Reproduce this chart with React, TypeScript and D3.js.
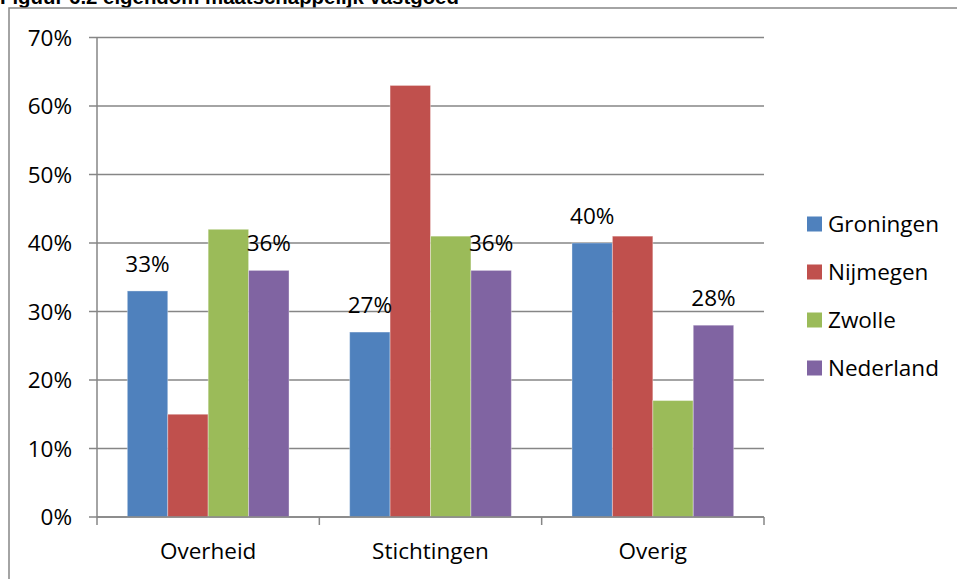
import React from "react";
import * as d3 from "d3";

// Ownership of social real estate per owner type and city
const categories = ["Overheid", "Stichtingen", "Overig"];
const seriesNames = ["Groningen", "Nijmegen", "Zwolle", "Nederland"];
const groningen = [0.33, 0.27, 0.40];
const nijmegen = [0.15, 0.63, 0.41];
const zwolle = [0.42, 0.41, 0.17];
const nederland = [0.36, 0.36, 0.28];
const seriesValues = [groningen, nijmegen, zwolle, nederland];
const labeledSeries = ["Groningen", "Nederland"];
const yTicks = [0, 0.1, 0.2, 0.3, 0.4, 0.5, 0.6, 0.7];
const title = "Figuur 6.2 eigendom maatschappelijk vastgoed";

const colors = ["#4F81BD", "#C0504D", "#9BBB59", "#8064A2"];
const W = 957;
const H = 579;
const FONT = "'Open Sans', 'Noto Sans', sans-serif";
const FS = 22.5;
const gridColor = "#868686";

export default function App() {
  const x0 = 97;
  const x1 = 764;
  const yTop = 37.5;
  const yBottom = 517;

  const x = d3.scaleBand<string>().domain(categories).range([x0, x1]).paddingInner(0).paddingOuter(0);
  const xs = d3.scaleBand<string>().domain(seriesNames).range([0, x.bandwidth()]).paddingInner(0).paddingOuter(0.75);
  const y = d3.scaleLinear().domain([0, 0.7]).range([yBottom, yTop]);
  const pct = d3.format(".0%");

  const catEdges = [...categories.map((c) => x(c) as number), x1];

  const legendX = 807;
  const legendY0 = 224;
  const legendStep = 48;

  return (
    <svg
      width={W}
      height={H}
      viewBox={`0 0 ${W} ${H}`}
      style={{ position: "absolute", left: 0, top: 0, display: "block", background: "#fff" }}
    >
      <rect x={0} y={0} width={W} height={H} fill="#fff" />
      {/* title, partly cut by the top edge */}
      <text x={0} y={4} fontFamily="Arial, 'Liberation Sans', sans-serif" fontWeight="bold" fontSize={20.4} fill="#000">
        {title}
      </text>
      {/* outer chart frame */}
      <rect x={9} y={8} width={W + 20} height={H + 20} fill="none" stroke={gridColor} strokeWidth={1.5} />

      {/* gridlines and y ticks */}
      {yTicks.map((t) => (
        <g key={t}>
          <line x1={x0 - 8} x2={x1} y1={y(t)} y2={y(t)} stroke={gridColor} strokeWidth={1.5} />
          <text
            x={72}
            y={y(t)}
            dy="0.36em"
            textAnchor="end"
            fontFamily={FONT}
            fontSize={FS}
            fill="#000"
          >
            {pct(t)}
          </text>
        </g>
      ))}
      <line x1={x0} x2={x0} y1={yTop} y2={yBottom} stroke={gridColor} strokeWidth={1.5} />

      {/* bars */}
      {categories.map((c, ci) => (
        <g key={c} transform={`translate(${x(c)},0)`}>
          {seriesNames.map((s, si) => {
            const v = seriesValues[si][ci];
            return (
              <rect
                key={s}
                x={xs(s)}
                y={y(v)}
                width={xs.bandwidth()}
                height={y(0) - y(v)}
                fill={colors[si]}
                stroke="rgba(255,255,255,0.35)"
                strokeWidth={1}
              />
            );
          })}
          {seriesNames.map((s, si) => {
            if (!labeledSeries.includes(s)) return null;
            const v = seriesValues[si][ci];
            return (
              <text
                key={s + "-label"}
                x={(xs(s) as number) + xs.bandwidth() / 2}
                y={y(v) - 19}
                textAnchor="middle"
                fontFamily={FONT}
                fontSize={FS}
                fill="#000"
              >
                {pct(v)}
              </text>
            );
          })}
        </g>
      ))}

      {/* x axis baseline and ticks */}
      <line x1={x0} x2={x1} y1={yBottom} y2={yBottom} stroke={gridColor} strokeWidth={1.5} />
      {catEdges.map((e, i) => (
        <line key={i} x1={e} x2={e} y1={yBottom} y2={yBottom + 8} stroke={gridColor} strokeWidth={1.5} />
      ))}
      {categories.map((c) => (
        <text
          key={c}
          x={(x(c) as number) + x.bandwidth() / 2}
          y={559}
          textAnchor="middle"
          fontFamily={FONT}
          fontSize={FS}
          fill="#000"
        >
          {c}
        </text>
      ))}

      {/* legend */}
      {seriesNames.map((s, i) => (
        <g key={s} transform={`translate(${legendX},${legendY0 + i * legendStep})`}>
          <rect x={0} y={-7.5} width={15} height={15} fill={colors[i]} />
          <text x={21} y={0} dy="0.36em" fontFamily={FONT} fontSize={FS} fill="#000">
            {s}
          </text>
        </g>
      ))}
    </svg>
  );
}
